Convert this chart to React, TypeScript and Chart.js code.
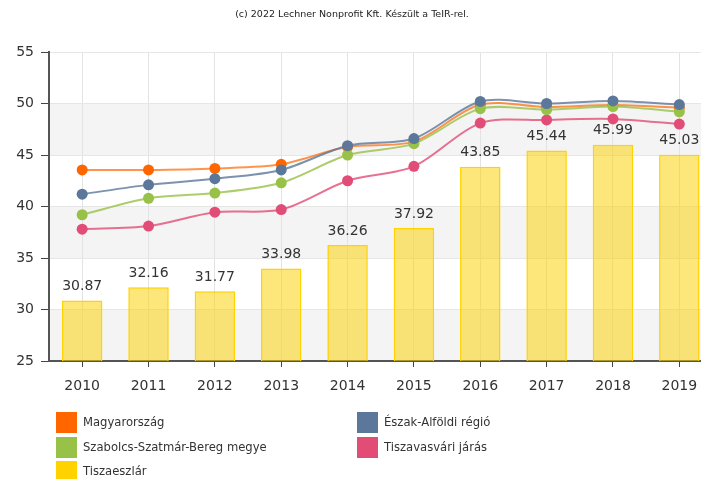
import React, { useEffect, useRef } from "react";
import { Chart, registerables } from "chart.js";

Chart.register(...registerables);

const years = ["2010", "2011", "2012", "2013", "2014", "2015", "2016", "2017", "2018", "2019"];
const magyarorszag = [43.55, 43.55, 43.7, 44.1, 45.8, 46.3, 49.9, 49.65, 49.85, 49.6];
const eszakAlfoldi = [41.2, 42.1, 42.7, 43.55, 45.9, 46.6, 50.2, 50.0, 50.25, 49.9];
const szabolcs = [39.2, 40.8, 41.3, 42.3, 45.0, 46.1, 49.5, 49.4, 49.7, 49.2];
const tiszavasvari = [37.8, 38.1, 39.45, 39.7, 42.5, 43.9, 48.1, 48.4, 48.5, 48.0];
const tiszaeszlar = [30.87, 32.16, 31.77, 33.98, 36.26, 37.92, 43.85, 45.44, 45.99, 45.03];

const seriesNames = [
  "Magyarország",
  "Észak-Alföldi régió",
  "Szabolcs-Szatmár-Bereg megye",
  "Tiszavasvári járás",
  "Tiszaeszlár",
];
const titleText = "(c) 2022 Lechner Nonprofit Kft. Készült a TeIR-rel.";
const bandRanges = [
  [45, 50],
  [35, 40],
  [25, 30],
];

const FONT = '"DejaVu Sans", Verdana, sans-serif';

const bandsPlugin = {
  id: "bands",
  beforeDraw(chart: any) {
    const { ctx, chartArea } = chart;
    const y = chart.scales.y;
    ctx.save();
    ctx.fillStyle = "#f4f4f4";
    for (const [a, b] of bandRanges) {
      const y1 = y.getPixelForValue(b);
      const y2 = y.getPixelForValue(a);
      ctx.fillRect(chartArea.left, y1, chartArea.right - chartArea.left, y2 - y1);
    }
    ctx.restore();
  },
};

const labelsPlugin = {
  id: "barLabels",
  afterDatasetsDraw(chart: any) {
    const { ctx } = chart;
    chart.data.datasets.forEach((ds: any, i: number) => {
      if (ds.type !== "bar") return;
      const meta = chart.getDatasetMeta(i);
      ctx.save();
      ctx.font = `14px ${FONT}`;
      ctx.fillStyle = "#333";
      ctx.textAlign = "center";
      ctx.textBaseline = "middle";
      meta.data.forEach((el: any, j: number) => {
        ctx.fillText(ds.data[j].toFixed(2), el.x, el.y - 14);
      });
      ctx.restore();
    });
  },
};

const titleLegendPlugin = {
  id: "titleLegend",
  afterDraw(chart: any) {
    const { ctx } = chart;
    ctx.save();
    ctx.font = `9.5px ${FONT}`;
    ctx.fillStyle = "#222";
    ctx.textAlign = "center";
    ctx.textBaseline = "middle";
    ctx.fillText(titleText, 352, 15);

    const ds = chart.data.datasets;
    const byLabel = (l: string) => ds.find((d: any) => d.label === l);
    const cols = [
      [seriesNames[0], seriesNames[2], seriesNames[4]],
      [seriesNames[1], seriesNames[3]],
    ];
    const colX = [56, 357];
    const rowY = [412, 437, 461];
    ctx.font = `11.6px ${FONT}`;
    ctx.textAlign = "left";
    cols.forEach((col, ci) => {
      col.forEach((name, ri) => {
        const d: any = byLabel(name);
        ctx.fillStyle = d.legendColor;
        ctx.fillRect(colX[ci], rowY[ri], 21, 21);
        ctx.fillStyle = "#333";
        ctx.fillText(name, colX[ci] + 27, rowY[ri] + 11);
      });
    });
    ctx.restore();
  },
};

function lineDs(label: string, data: number[], color: string, lineColor: string, order: number) {
  return {
    type: "line" as const,
    label,
    data,
    borderColor: lineColor,
    backgroundColor: color,
    pointBackgroundColor: color,
    pointBorderWidth: 0,
    pointRadius: 5.5,
    borderWidth: 2,
    tension: 0.3,
    fill: false,
    order,
    legendColor: color,
  };
}

export default function App() {
  const ref = useRef<HTMLCanvasElement>(null);
  useEffect(() => {
    if (!ref.current) return;
    const chart = new Chart(ref.current, {
      type: "bar",
      data: {
        labels: years,
        datasets: [
          lineDs(seriesNames[1], eszakAlfoldi, "#5b7799", "rgba(91,119,153,0.8)", 1),
          lineDs(seriesNames[2], szabolcs, "#98c147", "rgba(152,193,71,0.8)", 2),
          lineDs(seriesNames[0], magyarorszag, "#ff6600", "rgba(255,102,0,0.7)", 3),
          lineDs(seriesNames[3], tiszavasvari, "#e14d77", "rgba(225,77,119,0.8)", 4),
          {
            type: "bar" as const,
            label: seriesNames[4],
            data: tiszaeszlar,
            backgroundColor: "rgba(252,208,0,0.52)",
            borderColor: "#ffd200",
            borderWidth: 1.5,
            barPercentage: 0.61,
            categoryPercentage: 1,
            order: 10,
            legendColor: "#ffd200",
          } as any,
        ],
      },
      options: {
        responsive: false,
        animation: false,
        devicePixelRatio: 1,
        layout: { padding: { top: 52, right: 1, left: 0, bottom: 0 } },
        plugins: {
          legend: { display: false },
          title: { display: false },
          tooltip: { enabled: false },
        },
        scales: {
          x: {
            offset: true,
            grid: {
              offset: false,
              color: "#e3e3e3",
              tickColor: "#444",
              tickLength: 6,
              drawTicks: true,
            },
            border: { display: true, color: "#555", width: 2 },
            ticks: { color: "#333", font: { size: 14, family: FONT }, padding: 11 },
            afterFit(scale: any) {
              scale.height = 118;
            },
          },
          y: {
            min: 25,
            max: 55,
            ticks: { stepSize: 5, color: "#333", font: { size: 14, family: FONT }, padding: 7 },
            grid: { color: "#e6e6e6", tickColor: "#444", tickLength: 8 },
            border: { display: true, color: "#555", width: 2 },
            afterFit(scale: any) {
              scale.width = 49;
            },
          },
        },
      },
      plugins: [bandsPlugin, labelsPlugin, titleLegendPlugin],
    } as any);
    return () => chart.destroy();
  }, []);
  return (
    <div
      style={{
        position: "fixed",
        left: 0,
        top: 0,
        width: 701,
        height: 479,
        overflow: "hidden",
        background: "#fff",
      }}
    >
      <canvas ref={ref} width={718} height={479} style={{ display: "block" }} />
    </div>
  );
}
